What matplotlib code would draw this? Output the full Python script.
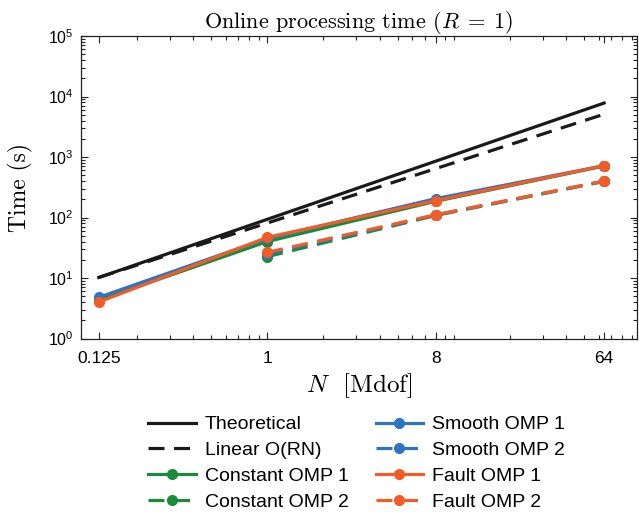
import math
import matplotlib
matplotlib.use("Agg")
import matplotlib.pyplot as plt
from matplotlib.ticker import LogLocator, FixedLocator, FixedFormatter, FuncFormatter, NullFormatter

plt.rcParams['font.family'] = ['Liberation Sans', 'DejaVu Sans']
plt.rcParams['mathtext.fontset'] = 'custom'
plt.rcParams['mathtext.rm'] = 'Liberation Sans'
plt.rcParams['mathtext.it'] = 'Liberation Sans:italic'

# data
n_ref = [0.125, 64]
theoretical = [10.2, 7800]
linear = [10.2, 5100]

n_omp1 = [0.125, 1, 8, 64]
n_omp2 = [1, 8, 64]
const_omp1 = [4.3, 40, 185, 710]
const_omp2 = [22.5, 108, 395]
smooth_omp1 = [4.8, 45, 205, 720]
smooth_omp2 = [25, 110, 400]
fault_omp1 = [4.0, 47, 190, 720]
fault_omp2 = [26.5, 111, 400]

xticks = [0.125, 1, 8, 64]
xticklabels = ['0.125', '1', '8', '64']

blue = '#2f74c0'
green = '#1b8a3c'
orange = '#f25c27'

fig = plt.figure(figsize=(6.39, 5.12), dpi=100)
ax = fig.add_axes([80.7/639, 1-338.5/512, (637-80.7)/639, (338.5-36)/512])

lw = 2.3
ms = 7
dash = (5, 3)

ax.plot(n_ref, theoretical, color='#1a1a1a', lw=lw, label='Theoretical')
ax.plot(n_ref, linear, color='#1a1a1a', lw=lw, dashes=dash, label='Linear O(RN)')
ax.plot(n_omp1, const_omp1, color=green, lw=lw, marker='o', ms=ms, label='Constant OMP 1')
ax.plot(n_omp2, const_omp2, color=green, lw=lw, marker='o', ms=ms, dashes=dash, label='Constant OMP 2')
ax.plot(n_omp1, smooth_omp1, color=blue, lw=lw, marker='o', ms=ms, label='Smooth OMP 1')
ax.plot(n_omp2, smooth_omp2, color=blue, lw=lw, marker='o', ms=ms, dashes=dash, label='Smooth OMP 2')
ax.plot(n_omp1, fault_omp1, color=orange, lw=lw, marker='o', ms=ms, label='Fault OMP 1')
ax.plot(n_omp2, fault_omp2, color=orange, lw=lw, marker='o', ms=ms, dashes=dash, label='Fault OMP 2')

ax.set_xscale('log')
ax.set_yscale('log')
ax.set_xlim(0.1, 96)
ax.set_ylim(1, 1e5)

ax.xaxis.set_major_locator(FixedLocator(xticks))
ax.xaxis.set_major_formatter(FixedFormatter(xticklabels))
ax.xaxis.set_minor_locator(LogLocator(base=10, subs=range(1, 10), numticks=20))
ax.xaxis.set_minor_formatter(NullFormatter())
ax.yaxis.set_major_locator(LogLocator(base=10, numticks=10))
ax.yaxis.set_major_formatter(FuncFormatter(lambda v, p: r'$10^{%d}$' % round(math.log10(v))))
ax.yaxis.set_minor_locator(LogLocator(base=10, subs=range(2, 10), numticks=20))
ax.yaxis.set_minor_formatter(NullFormatter())

ax.tick_params(which='both', direction='in', top=True, right=True, width=0.8, color='#222222')
ax.tick_params(which='major', length=5)
ax.tick_params(which='minor', length=3)
ax.tick_params(axis='x', pad=9, labelsize=12.5)
ax.tick_params(axis='y', pad=5, labelsize=11.5)
for s in ax.spines.values():
    s.set_linewidth(0.9)
    s.set_color('#222222')

ax.set_title(r'Online processing time ($R\;=\;1$)', fontsize=16, family='cmr10',
             math_fontfamily='cm', pad=5)
ax.set_xlabel(r'$N$  [Mdof]', fontsize=18, family='cmr10', math_fontfamily='cm', labelpad=4)
ax.set_ylabel('Time (s)', fontsize=17, family='cmr10', labelpad=11)

fig.legend(loc='upper center', bbox_to_anchor=(0.558, 0.222), ncol=2, frameon=False,
           fontsize=14, handlelength=2.45, handletextpad=0.45, columnspacing=1.4,
           labelspacing=0.42)

fig.savefig('out.png', dpi=100)
